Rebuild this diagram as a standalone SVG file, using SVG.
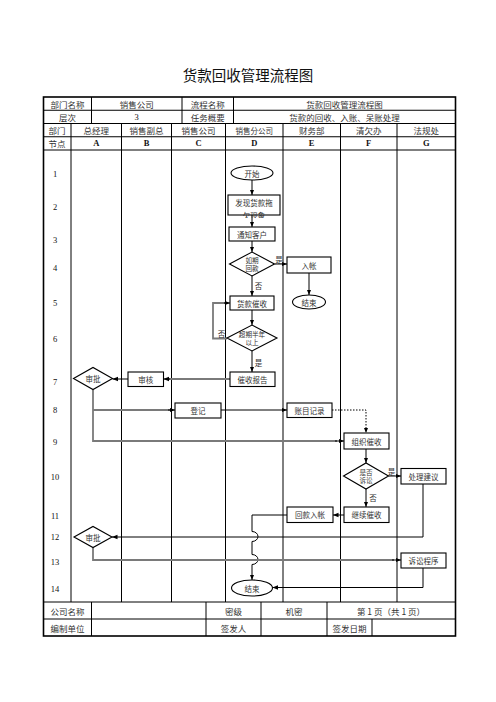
<svg xmlns="http://www.w3.org/2000/svg" width="496" height="702" viewBox="0 0 496 702">
<style>
.t{font-family:"Noto Sans CJK SC","Liberation Sans",sans-serif;fill:#333;text-anchor:middle;dominant-baseline:central}
.h{font-size:8.5px}
.b{font-size:7.5px}
.d{font-size:6.6px}
.n{font-family:"Liberation Serif","Noto Sans CJK SC",serif;font-size:8.5px;fill:#111;text-anchor:middle;dominant-baseline:central}
.nb{font-weight:bold}
.g{stroke:#000;stroke-width:1;fill:none}
.o{stroke:#000;stroke-width:1.6;fill:none}
.box{fill:#fff;stroke:#000;stroke-width:1.1}
.c{stroke:#000;stroke-width:1;fill:none}
.cg{stroke:#7a7a7a;stroke-width:1.8;fill:none}
.dot{stroke:#000;stroke-width:1;fill:none;stroke-dasharray:1.5 1.5}
</style>
<defs>
<marker id="ah" viewBox="0 0 10 10" refX="10" refY="5" markerWidth="5.5" markerHeight="5.5" markerUnits="userSpaceOnUse" orient="auto"><path d="M0,1 L10,5 L0,9 z" fill="#000"/></marker>
<clipPath id="clipFx"><rect x="226" y="193" width="56" height="25"/></clipPath>
</defs>
<rect width="496" height="702" fill="#fff"/>
<text class="t" x="248" y="74" style="font-size:14.5px;fill:#111">货款回收管理流程图</text>

<g id="table">
<rect class="o" x="43.5" y="97" width="412" height="539"/>
<path class="g" d="M43.5 110.25H455.5M43.5 123.5H455.5M43.5 136.75H455.5M43.5 150H455.5M43.5 602H455.5M43.5 619H455.5"/>
<path class="g" d="M91.5 97V123.5M182 97V123.5M233.5 97V123.5"/>
<path class="g" d="M71 123.5V602M121.5 123.5V602M171.5 123.5V602M225.5 123.5V602M283 123.5V602M340.5 123.5V602M397 123.5V602"/>
<path class="g" d="M91.5 602V636M206 602V636M261 602V636M327 602V636M372 619V636"/>
</g>

<g id="header">
<text class="t h" x="67.5" y="103.6">部门名称</text>
<text class="t h" x="136.7" y="103.6">销售公司</text>
<text class="t h" x="207.7" y="103.6">流程名称</text>
<text class="t h" x="344.5" y="103.6">货款回收管理流程图</text>
<text class="t h" x="67.5" y="116.9">层次</text>
<text class="n" x="136.7" y="116.9">3</text>
<text class="t h" x="207.7" y="116.9">任务概要</text>
<text class="t h" x="344.5" y="116.9">货款的回收、入账、呆账处理</text>
<text class="t h" x="57" y="130.1">部门</text>
<text class="t h" x="96.2" y="130.1">总经理</text>
<text class="t h" x="146.5" y="130.1">销售副总</text>
<text class="t h" x="198.5" y="130.1">销售公司</text>
<text class="t h" x="254.2" y="130.1" style="font-size:7.5px">销售分公司</text>
<text class="t h" x="311.7" y="130.1">财务部</text>
<text class="t h" x="368.7" y="130.1">清欠办</text>
<text class="t h" x="426.2" y="130.1">法规处</text>
<text class="t h" x="57" y="143.4">节点</text>
<text class="n nb" x="96.2" y="143.4">A</text>
<text class="n nb" x="146.5" y="143.4">B</text>
<text class="n nb" x="198.5" y="143.4">C</text>
<text class="n nb" x="254.2" y="143.4">D</text>
<text class="n nb" x="311.7" y="143.4">E</text>
<text class="n nb" x="368.7" y="143.4">F</text>
<text class="n nb" x="426.2" y="143.4">G</text>
</g>

<g id="rows">
<text class="n" x="55" y="174">1</text>
<text class="n" x="55" y="207.3">2</text>
<text class="n" x="55" y="239.5">3</text>
<text class="n" x="55" y="268.3">4</text>
<text class="n" x="55" y="303">5</text>
<text class="n" x="55" y="339">6</text>
<text class="n" x="55" y="381.5">7</text>
<text class="n" x="55" y="410">8</text>
<text class="n" x="55" y="441.5">9</text>
<text class="n" x="55" y="477">10</text>
<text class="n" x="55" y="516">11</text>
<text class="n" x="55" y="537">12</text>
<text class="n" x="55" y="561.7">13</text>
<text class="n" x="55" y="588.5">14</text>
</g>

<g id="footer">
<text class="t h" x="67.5" y="610.5">公司名称</text>
<text class="t h" x="233.5" y="610.5">密级</text>
<text class="t h" x="294" y="610.5">机密</text>
<text class="t h" x="391" y="610.5">第 1 页（共 1 页）</text>
<text class="t h" x="67.5" y="627.5">编制单位</text>
<text class="t h" x="233.5" y="627.5">签发人</text>
<text class="t h" x="349.5" y="627.5">签发日期</text>
</g>

<g id="connectors">
<path class="c" d="M252 180V195" marker-end="url(#ah)"/>
<path class="c" d="M252 215V227" marker-end="url(#ah)"/>
<path class="c" d="M252 241V252" marker-end="url(#ah)"/>
<path class="c" d="M274.5 264H287" marker-end="url(#ah)"/>
<path class="c" d="M309 273V295" marker-end="url(#ah)"/>
<path class="c" d="M252 276V296" marker-end="url(#ah)"/>
<path class="c" d="M252 310V325" marker-end="url(#ah)"/>
<path class="cg" d="M227 338.5H213V303H225"/>
<path class="c" d="M224 303H230" marker-end="url(#ah)"/>
<path class="c" d="M252 351V372" marker-end="url(#ah)"/>
<path class="cg" d="M230 379H168"/>
<path class="c" d="M170 379H163.5" marker-end="url(#ah)"/>
<path class="c" d="M128 379H112.5" marker-end="url(#ah)"/>
<path class="cg" d="M93 389.5V441H337"/>
<path class="cg" d="M93 410H170"/>
<path class="c" d="M168 410H175" marker-end="url(#ah)"/>
<path class="c" d="M335 441H344" marker-end="url(#ah)"/>
<path class="c" d="M221 410H287" marker-end="url(#ah)"/>
<path class="dot" d="M332 410H366V433" marker-end="url(#ah)"/>
<path class="c" d="M366 449V463" marker-end="url(#ah)"/>
<path class="c" d="M388.5 476H401" marker-end="url(#ah)"/>
<path class="c" d="M366 489V507" marker-end="url(#ah)"/>
<path class="c" d="M344 515H333" marker-end="url(#ah)"/>
<path class="c" d="M287 515H252V531.5A6 5 0 0 1 252 541.5V554.5A6 5 0 0 1 252 564.5V580" marker-end="url(#ah)"/>
<path class="c" d="M423 484V537H112" marker-end="url(#ah)"/>
<path class="cg" d="M93 547.5V560H394"/>
<path class="c" d="M392 560H401" marker-end="url(#ah)"/>
<path class="c" d="M423 568V587.5H272.5" marker-end="url(#ah)"/>
<text class="t b" x="279" y="259.5">是</text>
<text class="t b" x="258.5" y="285">否</text>
<text class="t b" x="221.5" y="333">否</text>
<text class="t b" x="258.5" y="362">是</text>
<text class="t b" x="391.5" y="471.5">是</text>
<text class="t b" x="373" y="497">否</text>
</g>

<g id="n-start"><ellipse class="box" cx="252" cy="173" rx="21" ry="7"/><text class="t b" x="252" y="173">开始</text></g>
<g id="n-find"><rect class="box" x="228" y="195" width="52" height="20"/><g clip-path="url(#clipFx)"><text class="t b" x="254" y="202.5">发现货款拖</text><text class="t b" x="254" y="215.5">欠现象</text></g></g>
<g id="n-notify"><rect class="box" x="229" y="227" width="46" height="14"/><text class="t b" x="252" y="234">通知客户</text></g>
<g id="n-ontime"><polygon class="box" points="229.5,264 252,252 274.5,264 252,276"/><text class="t d" x="252" y="259.8">如期</text><text class="t d" x="252" y="268.4">回款</text></g>
<g id="n-ruzhang"><rect class="box" x="287" y="257" width="44" height="16"/><text class="t b" x="309" y="265">入帐</text></g>
<g id="n-end1"><ellipse class="box" cx="309" cy="302" rx="16.5" ry="7"/><text class="t b" x="309" y="302">结束</text></g>
<g id="n-collect"><rect class="box" x="230" y="296" width="44" height="14"/><text class="t b" x="252" y="303">货款催收</text></g>
<g id="n-overdue"><polygon class="box" points="227,338 252,325 277,338 252,351"/><text class="t d" x="252" y="333.7">超期半年</text><text class="t d" x="252" y="342.3">以上</text></g>
<g id="n-report"><rect class="box" x="230" y="372" width="45" height="14.5"/><text class="t b" x="252.5" y="379.3">催收报告</text></g>
<g id="n-review"><rect class="box" x="128" y="372" width="35.5" height="14.5"/><text class="t b" x="145.7" y="379.3">审核</text></g>
<g id="n-approve1"><polygon class="box" points="73.5,378.5 93,367.5 112.5,378.5 93,389.5"/><text class="t b" x="93" y="378.5">审批</text></g>
<g id="n-register"><rect class="box" x="175" y="403" width="46" height="15"/><text class="t b" x="198" y="410.5">登记</text></g>
<g id="n-account"><rect class="box" x="287" y="403" width="45" height="14.5"/><text class="t b" x="309.5" y="410.3">账目记录</text></g>
<g id="n-organize"><rect class="box" x="344" y="433" width="45" height="16"/><text class="t b" x="366.5" y="441">组织催收</text></g>
<g id="n-sue"><polygon class="box" points="343.5,476 366,463 388.5,476 366,489"/><text class="t d" x="366" y="471.7">是否</text><text class="t d" x="366" y="480.3">诉讼</text></g>
<g id="n-advice"><rect class="box" x="401" y="468.5" width="45" height="15.5"/><text class="t b" x="423.5" y="476.3">处理建议</text></g>
<g id="n-continue"><rect class="box" x="344" y="507" width="45" height="15.5"/><text class="t b" x="366.5" y="514.8">继续催收</text></g>
<g id="n-repay"><rect class="box" x="287" y="507" width="46" height="15.5"/><text class="t b" x="310" y="514.8">回款入帐</text></g>
<g id="n-approve2"><polygon class="box" points="74,537 93,526.5 112,537 93,547.5"/><text class="t b" x="93" y="537">审批</text></g>
<g id="n-lawsuit"><rect class="box" x="401" y="553" width="45" height="15"/><text class="t b" x="423.5" y="560.5">诉讼程序</text></g>
<g id="n-end2"><ellipse class="box" cx="252" cy="588" rx="20.5" ry="8"/><text class="t b" x="252" y="588">结束</text></g>
</svg>
